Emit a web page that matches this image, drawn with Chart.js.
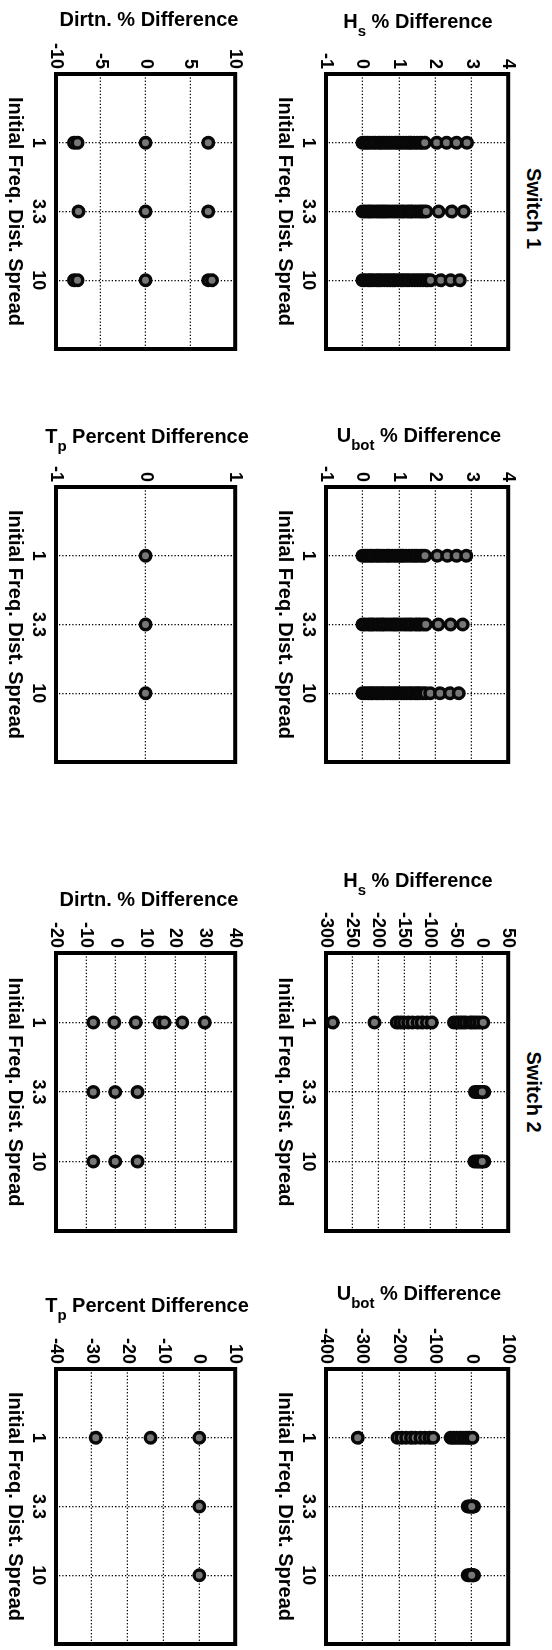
<!DOCTYPE html>
<html>
<head>
<meta charset="utf-8">
<script src="https://cdn.jsdelivr.net/npm/chart.js@4.4.1/dist/chart.umd.min.js"></script>
<style>
html, body { margin: 0; padding: 0; background: #fff; overflow: hidden; }
body { width: 552px; height: 1650px; position: relative; font-family: "Liberation Sans", Arial, sans-serif; }
/* the figure is laid out landscape and turned a quarter clockwise */
#fig { position: absolute; left: 0; top: 0; width: 1650px; height: 552px; transform-origin: 0 0; transform: translate(552px, 0) rotate(90deg); }
#fig canvas { position: absolute; }
.sw { position: absolute; width: 200px; text-align: center; font-weight: bold; font-size: 20px; line-height: 20px; color: #000; white-space: nowrap; }
.ylab { position: absolute; width: 300px; text-align: center; font-weight: bold; font-size: 20px; line-height: 20px; color: #000; white-space: nowrap; }
.ylab .sub { font-size: 15px; position: relative; top: 8px; }
</style>
</head>
<body>
<div id="fig"></div>
<script>
// ====== categories ======
const catLabels = ['1', '3.3', '10'];

// ====== Switch 1 (one list per category: 1, 3.3, 10) ======
const hsSwitch1 = [
    [0, 0.06, 0.14, 0.21, 0.29, 0.35, 0.44, 0.51, 0.58, 0.66, 0.74, 0.81, 0.89, 0.97, 1.04, 1.12, 1.2, 1.27, 1.34, 1.42, 1.5, 1.57, 1.64, 1.71, 2.04, 2.31, 2.58, 2.87],
    [0, 0.08, 0.15, 0.22, 0.3, 0.38, 0.45, 0.53, 0.61, 0.68, 0.76, 0.84, 0.91, 0.99, 1.07, 1.14, 1.22, 1.3, 1.37, 1.45, 1.53, 1.6, 1.68, 1.75, 2.09, 2.45, 2.78],
    [0, 0.07, 0.15, 0.22, 0.29, 0.37, 0.45, 0.52, 0.6, 0.67, 0.75, 0.83, 0.9, 0.98, 1.05, 1.13, 1.21, 1.28, 1.36, 1.43, 1.51, 1.59, 1.66, 1.74, 1.8, 1.87, 2.15, 2.42, 2.67]
];
const hsSwitch1Ticks = [-1, 0, 1, 2, 3, 4];

const ubotSwitch1 = [
    [0, 0.07, 0.14, 0.22, 0.29, 0.37, 0.44, 0.52, 0.59, 0.67, 0.74, 0.82, 0.9, 0.97, 1.05, 1.12, 1.2, 1.28, 1.35, 1.43, 1.5, 1.58, 1.65, 1.72, 2.05, 2.33, 2.58, 2.85],
    [0, 0.07, 0.15, 0.23, 0.3, 0.38, 0.45, 0.53, 0.6, 0.68, 0.76, 0.83, 0.91, 0.98, 1.06, 1.14, 1.21, 1.29, 1.36, 1.44, 1.52, 1.59, 1.67, 1.74, 2.08, 2.42, 2.75],
    [0, 0.08, 0.15, 0.23, 0.3, 0.37, 0.45, 0.53, 0.6, 0.68, 0.75, 0.83, 0.91, 0.98, 1.06, 1.13, 1.21, 1.29, 1.36, 1.44, 1.51, 1.58, 1.66, 1.73, 1.86, 2.13, 2.4, 2.64]
];
const ubotSwitch1Ticks = [-1, 0, 1, 2, 3, 4];

const dirSwitch1 = [
    [-8.0, -7.6, 0, 7.0],
    [-7.5, 0, 7.0],
    [-8.0, -7.6, 0, 7.0, 7.4]
];
const dirSwitch1Ticks = [-10, -5, 0, 5, 10];

const tpSwitch1 = [
    [0],
    [0],
    [0]
];
const tpSwitch1Ticks = [-1, 0, 1];

// ====== Switch 2 ======
const hsSwitch2 = [
    [-287, -207, -164, -157, -150, -142, -134, -124, -116, -106, -97, -54, -48, -43, -37, -31, -24, -18, -12, -5, 2],
    [-14, -10, -6, -3, 4, 0],
    [-15, -11, -7, -3, 4, 0]
];
const hsSwitch2Ticks = [-300, -250, -200, -150, -100, -50, 0, 50];

const ubotSwitch2 = [
    [-313, -204, -193, -180, -167, -155, -141, -128, -116, -106, -58, -50, -42, -33, -24, -17, -11, -5, 2],
    [-11, -7, -3, 6, 3, 0],
    [-11, -7, -3, 6, 3, 0]
];
const ubotSwitch2Ticks = [-400, -300, -200, -100, 0, 100];

const dirSwitch2 = [
    [-7.5, -0.5, 6.7, 14.7, 16.3, 22.3, 29.8],
    [-7.5, -0.2, 7.3],
    [-7.5, -0.2, 7.3]
];
const dirSwitch2Ticks = [-20, -10, 0, 10, 20, 30, 40];

const tpSwitch2 = [
    [-28.9, -13.6, 0],
    [0],
    [0]
];
const tpSwitch2Ticks = [-40, -30, -20, -10, 0, 10];

// ====== layout (landscape coords for boxes, page coords for value labels) ======
const FONT = "'Liberation Sans', Arial, sans-serif";
Chart.defaults.font.family = FONT;

const panels = [
    { data: hsSwitch1,   ticks: hsSwitch1Ticks,   x0: 74,   x1: 349,  y0: 40,  y1: 226, label: 'H<span class="sub">s</span> % Difference',   lx: 418, ly: 28.3 },
    { data: ubotSwitch1, ticks: ubotSwitch1Ticks, x0: 487,  x1: 762,  y0: 40,  y1: 226, label: 'U<span class="sub">bot</span> % Difference', lx: 419, ly: 441.7 },
    { data: hsSwitch2,   ticks: hsSwitch2Ticks,   x0: 953,  x1: 1231, y0: 40,  y1: 226, label: 'H<span class="sub">s</span> % Difference',   lx: 418, ly: 886.7 },
    { data: ubotSwitch2, ticks: ubotSwitch2Ticks, x0: 1369, x1: 1644, y0: 40,  y1: 226, label: 'U<span class="sub">bot</span> % Difference', lx: 419, ly: 1300 },
    { data: dirSwitch1,  ticks: dirSwitch1Ticks,  x0: 74,   x1: 349,  y0: 313, y1: 496, label: 'Dirtn. % Difference',                    lx: 149, ly: 26 },
    { data: tpSwitch1,   ticks: tpSwitch1Ticks,   x0: 487,  x1: 762,  y0: 313, y1: 496, label: 'T<span class="sub">p</span> Percent Difference', lx: 147, ly: 442.7 },
    { data: dirSwitch2,  ticks: dirSwitch2Ticks,  x0: 953,  x1: 1231, y0: 313, y1: 496, label: 'Dirtn. % Difference',                    lx: 149, ly: 906 },
    { data: tpSwitch2,   ticks: tpSwitch2Ticks,   x0: 1369, x1: 1644, y0: 313, y1: 496, label: 'T<span class="sub">p</span> Percent Difference', lx: 147, ly: 1311.7 }
];

const switchTitles = [
    { text: 'Switch 1', cx: 208.5, base: 25.3 },
    { text: 'Switch 2', cx: 1092,  base: 25.3 }
];

// heavy axes box, like the matlab one
const boxPlugin = {
    id: 'box',
    beforeDatasetsDraw(chart) {
        const { ctx, chartArea: a } = chart;
        ctx.save();
        ctx.lineWidth = 4;
        ctx.strokeStyle = '#000';
        ctx.strokeRect(a.left, a.top, a.right - a.left, a.bottom - a.top);
        ctx.restore();
    }
};

const fig = document.getElementById('fig');

switchTitles.forEach(s => {
    const d = document.createElement('div');
    d.className = 'sw';
    d.textContent = s.text;
    d.style.left = (s.cx - 100) + 'px';
    d.style.top = (s.base - 16.9) + 'px';
    fig.appendChild(d);
});

const gridOpts = { color: '#000', lineWidth: 1.3, drawTicks: false, borderDash: [1.3, 2] };
const borderOpts = { display: false, dash: [1.3, 2] };

panels.forEach(p => {
    const w = p.x1 - p.x0 + 80;
    const h = p.y1 - p.y0 + 12 + 64;
    const cv = document.createElement('canvas');
    cv.width = w; cv.height = h;
    cv.style.width = w + 'px'; cv.style.height = h + 'px';
    cv.style.left = (p.x0 - 70) + 'px';
    cv.style.top = (p.y0 - 12) + 'px';
    fig.appendChild(cv);

    const pts = [];
    p.data.forEach((vals, i) => vals.forEach(v => pts.push({ x: i + 1, y: v })));

    new Chart(cv, {
        type: 'scatter',
        data: {
            datasets: [{
                data: pts,
                pointRadius: 5.25,
                pointHoverRadius: 5.25,
                pointBorderWidth: 3.5,
                pointBackgroundColor: '#777',
                pointBorderColor: '#080808'
            }]
        },
        options: {
            responsive: false,
            animation: false,
            devicePixelRatio: 1,
            events: [],
            layout: { padding: { left: 0, right: 10, top: 12, bottom: 0 } },
            plugins: { legend: { display: false }, tooltip: { enabled: false } },
            scales: {
                x: {
                    type: 'linear', position: 'bottom', min: 0, max: 4,
                    afterBuildTicks: s => { s.ticks = catLabels.map((c, i) => ({ value: i + 1 })); },
                    afterFit: s => { s.height = 64; },
                    ticks: {
                        callback: (v, i) => catLabels[i],
                        font: { size: 18, weight: 'bold' }, color: '#000',
                        padding: 7, maxRotation: 0, minRotation: 0, autoSkip: false
                    },
                    grid: gridOpts,
                    border: borderOpts,
                    title: {
                        display: true, text: 'Initial Freq. Dist. Spread', color: '#000',
                        font: { size: 20, weight: 'bold' }, padding: { top: 0, bottom: 11 }
                    }
                },
                y: {
                    type: 'linear', position: 'left',
                    min: p.ticks[0], max: p.ticks[p.ticks.length - 1],
                    afterBuildTicks: s => { s.ticks = p.ticks.map(v => ({ value: v })); },
                    afterFit: s => { s.width = 70; },
                    ticks: {
                        callback: v => String(v),
                        font: { size: 18, weight: 'bold' }, color: '#000', padding: 5
                    },
                    grid: gridOpts,
                    border: borderOpts
                }
            }
        },
        plugins: [boxPlugin]
    });

    // value-axis label (horizontal on the page)
    const d = document.createElement('div');
    d.className = 'ylab';
    d.innerHTML = p.label;
    d.style.left = (p.lx - 150) + 'px';
    d.style.top = (p.ly - 16.9) + 'px';
    document.body.appendChild(d);
});
</script>
</body>
</html>
